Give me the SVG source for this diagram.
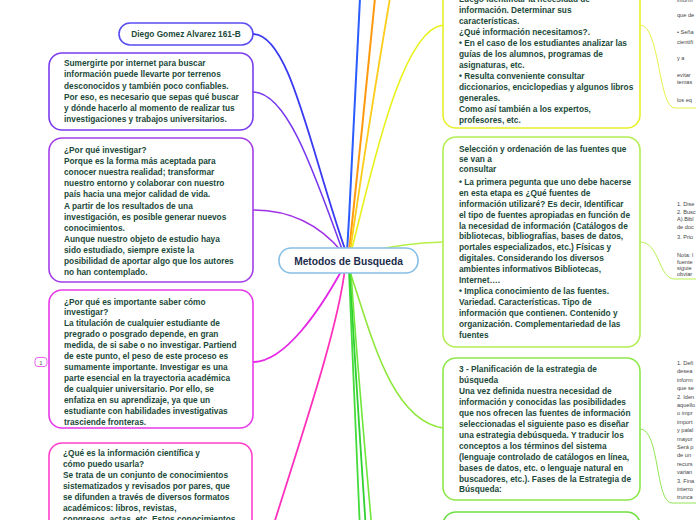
<svg xmlns="http://www.w3.org/2000/svg" width="696" height="520" viewBox="0 0 696 520">
<style>
.bg{fill:#ffffff}
.box{fill:#ffffff;stroke-width:1.6}
.t{font-family:"Liberation Sans",Arial,sans-serif;font-size:8.3px;font-weight:bold;fill:#1b4a39}
.s{font-family:"Liberation Sans",Arial,sans-serif;font-size:5.6px;fill:#444444}
.c{fill:none;stroke-linecap:round}
.sub{fill:none;stroke-width:1}
</style>
<rect class="bg" x="0" y="0" width="696" height="520"/>
<g id="connectors">
  <path class="c" d="M253,34 C290,34 310,150 346,252" stroke="#3a3af2" stroke-width="1.8"/>
  <path class="c" d="M253,92 C285,92 310,160 343,252" stroke="#7636ee" stroke-width="1.6"/>
  <path class="c" d="M253,210 C290,210 320,225 342,252" stroke="#a030e6" stroke-width="1.6"/>
  <path class="c" d="M253,362 C285,362 320,310 343,268" stroke="#e626e6" stroke-width="1.8"/>
  <path class="c" d="M345,268 C338,330 300,440 272,530" stroke="#ff30bc" stroke-width="1.8"/>
  <path class="c" d="M347,252 C352,170 356,90 360,-2" stroke="#2a5cff" stroke-width="2"/>
  <path class="c" d="M349,252 C358,170 367,80 375,-2" stroke="#ff9a10" stroke-width="2"/>
  <path class="c" d="M350,252 C362,170 376,80 390,-2" stroke="#ffcc1a" stroke-width="1.8"/>
  <path class="c" d="M351,252 C370,180 400,30 443,25" stroke="#e8f21a" stroke-width="1.6"/>
  <path class="c" d="M348,255 C380,250 400,243 443,242" stroke="#b6f046" stroke-width="1.6"/>
  <path class="c" d="M350,272 C370,330 390,420 443,428" stroke="#8ee83a" stroke-width="1.6"/>
  <path class="c" d="M349,272 C352,350 356,440 360,530" stroke="#44dc3a" stroke-width="1.8"/>
  <path class="c" d="M350,272 C354,350 360,440 366,530" stroke="#30d030" stroke-width="1.8"/>
  <path class="c" d="M351,272 C356,350 364,440 372,530" stroke="#6ee63a" stroke-width="1.6"/>
  <path class="sub" d="M640,25 C660,25 658,108 675,108 L696,108" stroke="#e8f24a"/>
  <path class="sub" d="M640,242 C660,242 658,279 675,279 L696,279" stroke="#b6f056"/>
  <path class="sub" d="M640,429 C660,429 655,503 672,503 L696,503" stroke="#92e656"/>
</g>
<g id="center">
  <rect x="279" y="248" width="139" height="25" rx="12" fill="#ffffff" stroke="#86bfe6" stroke-width="1.6"/>
  <text x="348.5" y="264.5" text-anchor="middle" font-family="Liberation Sans, Arial, sans-serif" font-size="10.2" font-weight="bold" fill="#1b2b4b">Metodos de Busqueda</text>
</g>
<g id="node-diego">
  <rect class="box" x="119" y="23" width="134" height="22" rx="11" stroke="#5a4cf2"/>
  <text class="t" x="186" y="37" text-anchor="middle">Diego Gomez Alvarez 161-B</text>
</g>
<g id="node-sumergirte">
  <rect class="box" x="49" y="53" width="204" height="77" rx="13" stroke="#7b3cf0"/>
  <text class="t">
    <tspan x="64" y="66.3">Sumergirte por internet para buscar</tspan>
    <tspan x="64" y="77.4">información puede llevarte por terrenos</tspan>
    <tspan x="64" y="88.5">desconocidos y también poco confiables.</tspan>
    <tspan x="64" y="99.6">Por eso, es necesario que sepas qué buscar</tspan>
    <tspan x="64" y="110.7">y dónde hacerlo al momento de realizar tus</tspan>
    <tspan x="64" y="121.8">investigaciones y trabajos universitarios.</tspan>
  </text>
</g>
<g id="node-porque">
  <rect class="box" x="49" y="138" width="204" height="144" rx="13" stroke="#a43ee8"/>
  <text class="t">
    <tspan x="64" y="153">¿Por qué investigar?</tspan>
    <tspan x="64" y="164.1">Porque es la forma más aceptada para</tspan>
    <tspan x="64" y="175.2">conocer nuestra realidad; transformar</tspan>
    <tspan x="64" y="186.3">nuestro entorno y colaborar con nuestro</tspan>
    <tspan x="64" y="197.4">país hacia una mejor calidad de vida.</tspan>
    <tspan x="64" y="208.5">A partir de los resultados de una</tspan>
    <tspan x="64" y="219.6">investigación, es posible generar nuevos</tspan>
    <tspan x="64" y="230.7">conocimientos.</tspan>
    <tspan x="64" y="241.8">Aunque nuestro objeto de estudio haya</tspan>
    <tspan x="64" y="252.9">sido estudiado, siempre existe la</tspan>
    <tspan x="64" y="264">posibilidad de aportar algo que los autores</tspan>
    <tspan x="64" y="275.1">no han contemplado.</tspan>
  </text>
</g>
<g id="node-importante">
  <rect class="box" x="49" y="290" width="204" height="138" rx="13" stroke="#e63ae8"/>
  <text class="t">
    <tspan x="64" y="304.5">¿Por qué es importante saber cómo</tspan>
    <tspan x="64" y="315.45">investigar?</tspan>
    <tspan x="64" y="326.4">La titulación de cualquier estudiante de</tspan>
    <tspan x="64" y="337.35">pregrado o posgrado depende, en gran</tspan>
    <tspan x="64" y="348.3">medida, de si sabe o no investigar. Partiend</tspan>
    <tspan x="64" y="359.25">de este punto, el peso de este proceso es</tspan>
    <tspan x="64" y="370.2">sumamente importante. Investigar es una</tspan>
    <tspan x="64" y="381.15">parte esencial en la trayectoria académica</tspan>
    <tspan x="64" y="392.1">de cualquier universitario. Por ello, se</tspan>
    <tspan x="64" y="403.05">enfatiza en su aprendizaje, ya que un</tspan>
    <tspan x="64" y="414">estudiante con habilidades investigativas</tspan>
    <tspan x="64" y="424.95">trasciende fronteras.</tspan>
  </text>
  <rect x="35" y="357.5" width="12" height="9" rx="3" fill="#ffffff" stroke="#e63ae8" stroke-width="0.8"/>
  <text x="41" y="364.5" text-anchor="middle" font-family="Liberation Sans, Arial, sans-serif" font-size="6" fill="#555555">1</text>
</g>
<g id="node-cientifica">
  <rect class="box" x="49" y="443" width="203" height="120" rx="13" stroke="#ff40cc"/>
  <text class="t">
    <tspan x="63" y="456.3">¿Qué es la información científica y</tspan>
    <tspan x="63" y="467.3">cómo puedo usarla?</tspan>
    <tspan x="63" y="478.3">Se trata de un conjunto de conocimientos</tspan>
    <tspan x="63" y="489.3">sistematizados y revisados por pares, que</tspan>
    <tspan x="63" y="500.3">se difunden a través de diversos formatos</tspan>
    <tspan x="63" y="511.3">académicos: libros, revistas,</tspan>
    <tspan x="63" y="522.3">congresos, actas, etc. Estos conocimientos</tspan>
  </text>
</g>
<g id="node-necesidad">
  <rect class="box" x="443" y="-80" width="197" height="208" rx="13" stroke="#e6f02a"/>
  <text class="t">
    <tspan x="459" y="1.5">Luego identificar la necesidad de</tspan>
    <tspan x="459" y="12.5">información. Determinar sus</tspan>
    <tspan x="459" y="23.5">características.</tspan>
    <tspan x="459" y="34.5">¿Qué información necesitamos?.</tspan>
    <tspan x="459" y="45.5">• En el caso de los estudiantes analizar las</tspan>
    <tspan x="459" y="56.5">guías de los alumnos, programas de</tspan>
    <tspan x="459" y="67.5">asignaturas, etc.</tspan>
    <tspan x="459" y="78.5">• Resulta conveniente consultar</tspan>
    <tspan x="459" y="89.5">diccionarios, enciclopedias y algunos libros</tspan>
    <tspan x="459" y="100.5">generales.</tspan>
    <tspan x="459" y="111.5">Como así también a los expertos,</tspan>
    <tspan x="459" y="122.5">profesores, etc.</tspan>
  </text>
</g>
<g id="node-necesidad-sub">
  <text class="s">
    <tspan x="677" y="1.5">inform</tspan>
    <tspan x="677" y="17">que de</tspan>
    <tspan x="677" y="34">• Seña</tspan>
    <tspan x="677" y="44">científi</tspan>
    <tspan x="677" y="60">y a</tspan>
    <tspan x="677" y="77">evitar</tspan>
    <tspan x="677" y="84">temas</tspan>
    <tspan x="677" y="102">los eq</tspan>
  </text>
</g>
<g id="node-seleccion">
  <rect class="box" x="443" y="137" width="197" height="210" rx="13" stroke="#b2ee52"/>
  <text class="t">
    <tspan x="459" y="151.5">Selección y ordenación de las fuentes que</tspan>
    <tspan x="459" y="161.5">se van a</tspan>
    <tspan x="459" y="171.5">consultar</tspan>
    <tspan x="459" y="184.7">• La primera pegunta que uno debe hacerse</tspan>
    <tspan x="459" y="195.65">en esta etapa es ¿Qué fuentes de</tspan>
    <tspan x="459" y="206.6">información utilizaré? Es decir, Identificar</tspan>
    <tspan x="459" y="217.55">el tipo de fuentes apropiadas en función de</tspan>
    <tspan x="459" y="228.5">la necesidad de información (Catálogos de</tspan>
    <tspan x="459" y="239.45">bibliotecas, bibliografías, bases de datos,</tspan>
    <tspan x="459" y="250.4">portales especializados, etc.) Físicas y</tspan>
    <tspan x="459" y="261.35">digitales. Considerando los diversos</tspan>
    <tspan x="459" y="272.3">ambientes informativos Bibliotecas,</tspan>
    <tspan x="459" y="283.25">Internet….</tspan>
    <tspan x="459" y="294.2">• Implica conocimiento de las fuentes.</tspan>
    <tspan x="459" y="305.15">Variedad. Características. Tipo de</tspan>
    <tspan x="459" y="316.1">información que contienen. Contenido y</tspan>
    <tspan x="459" y="327.05">organización. Complementariedad de las</tspan>
    <tspan x="459" y="338">fuentes</tspan>
  </text>
</g>
<g id="node-seleccion-sub">
  <text class="s">
    <tspan x="677" y="206">1. Dise</tspan>
    <tspan x="677" y="213.5">2. Busc</tspan>
    <tspan x="677" y="221">A).Bibl</tspan>
    <tspan x="677" y="228.5">de doc</tspan>
    <tspan x="677" y="239">3. Prio</tspan>
    <tspan x="677" y="257">Nota: l</tspan>
    <tspan x="677" y="264">fuente</tspan>
    <tspan x="677" y="270">siguie</tspan>
    <tspan x="677" y="276">obviar</tspan>
  </text>
</g>
<g id="node-planificacion">
  <rect class="box" x="443" y="358" width="197" height="142" rx="13" stroke="#8ee84a"/>
  <text class="t">
    <tspan x="459" y="372">3 - Planificación de la estrategia de</tspan>
    <tspan x="459" y="382.95">búsqueda</tspan>
    <tspan x="459" y="393.9">Una vez definida nuestra necesidad de</tspan>
    <tspan x="459" y="404.85">información y conocidas las posibilidades</tspan>
    <tspan x="459" y="415.8">que nos ofrecen las fuentes de información</tspan>
    <tspan x="459" y="426.75">seleccionadas el siguiente paso es diseñar</tspan>
    <tspan x="459" y="437.7">una estrategia debúsqueda. Y traducir los</tspan>
    <tspan x="459" y="448.65">conceptos a los términos del sistema</tspan>
    <tspan x="459" y="459.6">(lenguaje controlado de catálogos en línea,</tspan>
    <tspan x="459" y="470.55">bases de datos, etc. o lenguaje natural en</tspan>
    <tspan x="459" y="481.5">buscadores, etc.). Fases de la Estrategia de</tspan>
    <tspan x="459" y="492.45">Búsqueda:</tspan>
  </text>
</g>
<g id="node-planificacion-sub">
  <text class="s">
    <tspan x="677" y="365">1. Defi</tspan>
    <tspan x="677" y="373.4">desea</tspan>
    <tspan x="677" y="381.8">inform</tspan>
    <tspan x="677" y="390.2">que se</tspan>
    <tspan x="677" y="398.6">2. Iden</tspan>
    <tspan x="677" y="407">aquello</tspan>
    <tspan x="677" y="415.4">o impr</tspan>
    <tspan x="677" y="423.8">import</tspan>
    <tspan x="677" y="432.2">y palal</tspan>
    <tspan x="677" y="440.6">mayor</tspan>
    <tspan x="677" y="449">Será p</tspan>
    <tspan x="677" y="457.4">de un</tspan>
    <tspan x="677" y="465.8">recurs</tspan>
    <tspan x="677" y="474.2">varian</tspan>
    <tspan x="677" y="482.6">3. Fina</tspan>
    <tspan x="677" y="491">interro</tspan>
    <tspan x="677" y="499.4">trunca</tspan>
  </text>
</g>
<g id="node-obtencion">
  <rect class="box" x="443" y="512" width="197" height="60" rx="13" stroke="#6ee042"/>
</g>
</svg>
